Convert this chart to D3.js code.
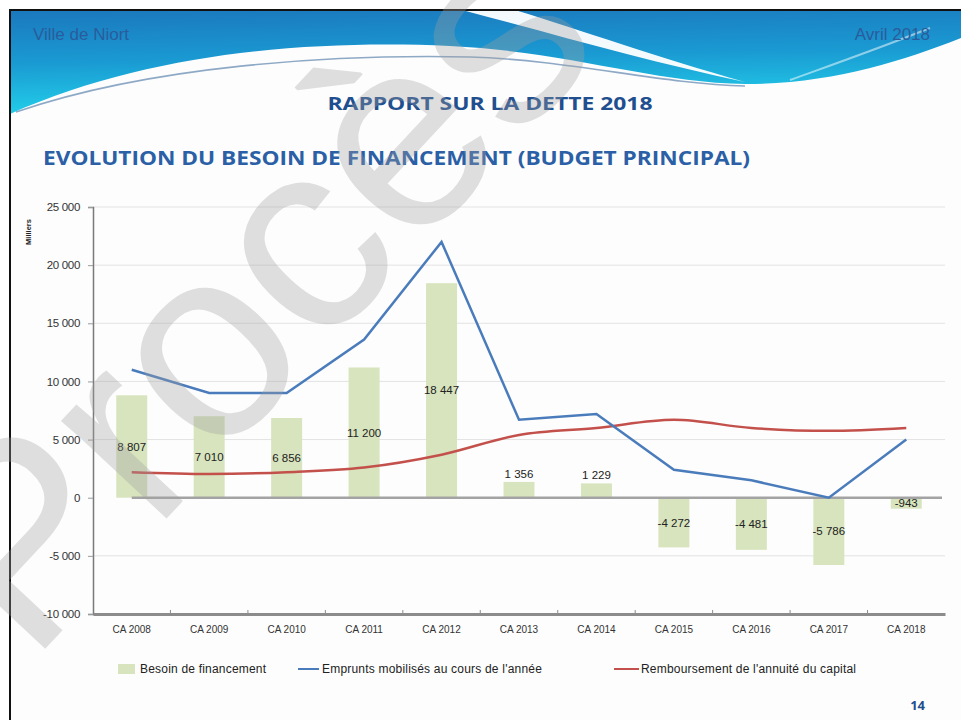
<!DOCTYPE html>
<html>
<head>
<meta charset="utf-8">
<script src="https://cdn.jsdelivr.net/npm/d3@7"></script>
<style>
  body { margin: 0; background: #fff; }
  svg { display: block; }
</style>
</head>
<body>
<svg id="chart"></svg>
<script>
const categories = ["CA 2008", "CA 2009", "CA 2010", "CA 2011", "CA 2012", "CA 2013",
  "CA 2014", "CA 2015", "CA 2016", "CA 2017", "CA 2018"];
const besoin = [8807, 7010, 6856, 11200, 18447, 1356, 1229, -4272, -4481, -5786, -943];
const emprunts = [11000, 9000, 9000, 13600, 22000, 6700, 7200, 2400, 1500, 0, 5000];
const remboursement = [2200, 2050, 2200, 2600, 3700, 5400, 6000, 6700, 6000, 5750, 6000];
const yTicks = [-10000, -5000, 0, 5000, 10000, 15000, 20000, 25000];
const legendItems = ["Besoin de financement", "Emprunts mobilisés au cours de l'année",
  "Remboursement de l'annuité du capital"];

const width = 961, height = 720;
const plot = { left: 93, right: 945, top: 207, bottom: 614 };

const fr = d3.formatLocale({ decimal: ",", thousands: " ", grouping: [3], currency: ["", ""], minus: "-" });
const fmt = fr.format(",d");

const svg = d3.select("#chart").attr("width", width).attr("height", height);

// ---- slide background / header
const defs = svg.append("defs");
const grad = defs.append("linearGradient").attr("id", "hdr")
  .attr("x1", 0).attr("y1", 0).attr("x2", 0.15).attr("y2", 1);
grad.append("stop").attr("offset", 0).attr("stop-color", "#1b78bd");
grad.append("stop").attr("offset", 0.5).attr("stop-color", "#1a9ad2");
grad.append("stop").attr("offset", 1).attr("stop-color", "#22cfea");

svg.append("rect").attr("x", 10).attr("y", 10).attr("width", width).attr("height", height)
  .attr("fill", "#fdfdfd");

svg.append("path").attr("fill", "url(#hdr)")
  .attr("d", "M10,10 H961 V38 C900,62 830,84 745,84 C650,82 570,52 450,46 C310,40 150,52 10,114 Z");
// white swoosh
svg.append("path").attr("fill", "#fff").attr("opacity", 0.95)
  .attr("d", "M462,10 L515,10 C580,30 660,58 745,82 C650,62 560,36 462,10 Z");
svg.append("path").attr("fill", "none").attr("stroke", "#ffffff").attr("stroke-width", 2).attr("opacity", 0.5)
  .attr("d", "M790,80 C840,62 880,48 930,28");
svg.append("path").attr("fill", "none").attr("stroke", "#8ea9c6").attr("stroke-width", 1.6)
  .attr("d", "M16,112 C150,66 330,54 470,57 C570,60 660,84 745,86");

svg.append("text").attr("x", 33).attr("y", 40).text("Ville de Niort")
  .attr("font-family", "Liberation Sans, Arial, sans-serif").attr("font-size", 17)
  .attr("fill", "#2a5c9c");
svg.append("text").attr("x", 930).attr("y", 40).attr("text-anchor", "end").text("Avril 2018")
  .attr("font-family", "Liberation Sans, Arial, sans-serif").attr("font-size", 17)
  .attr("fill", "#2a5c9c");

// border
svg.append("path").attr("fill", "none").attr("stroke", "#111").attr("stroke-width", 2)
  .attr("d", `M10,${height} V10 H${width}`);

svg.append("text").attr("x", 490).attr("y", 110).attr("text-anchor", "middle")
  .attr("font-family", "Open Sans, sans-serif").attr("font-weight", "bold").attr("font-size", 18)
  .attr("textLength", 325).attr("lengthAdjust", "spacingAndGlyphs")
  .attr("fill", "#1f4f8f").text("RAPPORT SUR LA DETTE 2018");

svg.append("text").attr("x", 43).attr("y", 165)
  .attr("font-family", "Open Sans, sans-serif").attr("font-weight", "bold").attr("font-size", 20)
  .attr("textLength", 707).attr("lengthAdjust", "spacingAndGlyphs")
  .attr("fill", "#2b5fa6").text("EVOLUTION DU BESOIN DE FINANCEMENT (BUDGET PRINCIPAL)");

// ---- chart
const x = d3.scaleBand().domain(categories).range([plot.left, plot.right])
  .paddingInner(0.6).paddingOuter(0.3);
const y = d3.scaleLinear().domain([-10000, 25000]).range([plot.bottom, plot.top]);
const step = x.step();
const cx = d => x(d) + x.bandwidth() / 2;

const chartFont = "Liberation Sans, Arial, sans-serif";

// gridlines
svg.append("g").selectAll("line").data(yTicks.filter(t => t !== 0 && t !== -10000)).join("line")
  .attr("x1", plot.left).attr("x2", plot.right)
  .attr("y1", d => y(d)).attr("y2", d => y(d))
  .attr("stroke", "#e3e3e3").attr("stroke-width", 1);

// y axis
const yAxis = svg.append("g").attr("transform", `translate(${plot.left},0)`)
  .call(d3.axisLeft(y).tickValues(yTicks).tickFormat(fmt).tickSize(5).tickPadding(8));
yAxis.select(".domain").attr("stroke", "#7a7a7a").attr("stroke-width", 1.5);
yAxis.selectAll(".tick line").attr("stroke", "#9a9a9a");
yAxis.selectAll(".tick text").attr("font-family", chartFont).attr("font-size", 11.5)
  .attr("letter-spacing", -0.3).attr("fill", "#333");

svg.append("text").attr("transform", "translate(31,232) rotate(-90)")
  .attr("text-anchor", "middle").attr("font-family", chartFont).attr("font-size", 7.5)
  .attr("font-weight", "bold").attr("fill", "#222").text("Milliers");

// bars
const rows = categories.map((c, i) => ({ c, v: besoin[i], e: emprunts[i], r: remboursement[i] }));
svg.append("g").selectAll("rect").data(rows).join("rect")
  .attr("x", d => x(d.c)).attr("width", x.bandwidth())
  .attr("y", d => y(Math.max(0, d.v)))
  .attr("height", d => Math.abs(y(d.v) - y(0)))
  .attr("fill", "#d7e4bd");

// zero line and bottom axis
svg.append("line").attr("x1", cx(categories[0])).attr("x2", plot.right - 3)
  .attr("y1", y(0)).attr("y2", y(0)).attr("stroke", "#a3a3a3").attr("stroke-width", 2.5);

const xAxis = svg.append("g").attr("transform", `translate(0,${plot.bottom})`)
  .call(d3.axisBottom(x).tickSize(0).tickPadding(12));
xAxis.select(".domain").attr("stroke", "#8c8c8c").attr("stroke-width", 3);
xAxis.selectAll(".tick text").attr("font-family", chartFont).attr("font-size", 10)
  .attr("fill", "#333");
xAxis.selectAll(".sep").data(categories.slice(1)).join("line").attr("class", "sep")
  .attr("x1", d => x(d) - step * 0.3).attr("x2", d => x(d) - step * 0.3)
  .attr("y1", -4).attr("y2", 0).attr("stroke", "#8c8c8c");

// lines
const blueLine = d3.line().x(d => cx(d.c)).y(d => y(d.e));
const redLine = d3.line().x(d => cx(d.c)).y(d => y(d.r)).curve(d3.curveMonotoneX);
svg.append("path").datum(rows).attr("d", redLine).attr("fill", "none")
  .attr("stroke", "#c3504b").attr("stroke-width", 2.5);
svg.append("path").datum(rows).attr("d", blueLine).attr("fill", "none")
  .attr("stroke", "#4a7cbc").attr("stroke-width", 2.5);

// bar labels
svg.append("g").selectAll("text").data(rows).join("text")
  .attr("x", d => cx(d.c))
  .attr("y", d => {
    const h = Math.abs(y(d.v) - y(0));
    if (d.v > 0 && h < 24) return y(d.v) - 8;
    return (y(d.v) + y(0)) / 2;
  })
  .attr("dy", "0.35em").attr("text-anchor", "middle")
  .attr("font-family", chartFont).attr("font-size", 11.5).attr("fill", "#222")
  .text(d => fmt(d.v));

// legend
const legend = svg.append("g").attr("font-family", chartFont).attr("font-size", 12)
  .attr("letter-spacing", 0.2).attr("fill", "#222");
const lx = [118, 298, 614];
legend.append("rect").attr("x", lx[0]).attr("y", 664).attr("width", 17).attr("height", 10).attr("fill", "#d7e4bd");
legend.append("line").attr("x1", lx[1]).attr("x2", lx[1] + 21).attr("y1", 669).attr("y2", 669)
  .attr("stroke", "#4a7cbc").attr("stroke-width", 2);
legend.append("line").attr("x1", lx[2]).attr("x2", lx[2] + 25).attr("y1", 669).attr("y2", 669)
  .attr("stroke", "#c3504b").attr("stroke-width", 2);
legend.selectAll("text").data(legendItems).join("text")
  .attr("x", (d, i) => [140, 322, 641][i]).attr("y", 669).attr("dy", "0.35em")
  .text(d => d);

svg.append("text").attr("x", 925).attr("y", 710).attr("text-anchor", "end")
  .attr("font-family", "Open Sans, sans-serif").attr("font-weight", "bold").attr("font-size", 13)
  .attr("fill", "#1f4f8f").text("14");

// watermark
svg.append("text").attr("transform", "translate(30,665) rotate(-47)")
  .attr("font-family", "Liberation Sans, Arial, sans-serif")
  .attr("font-size", 272).attr("fill", "#a0a0a0").attr("opacity", 0.33).text("Procès");
</script>
</body>
</html>
